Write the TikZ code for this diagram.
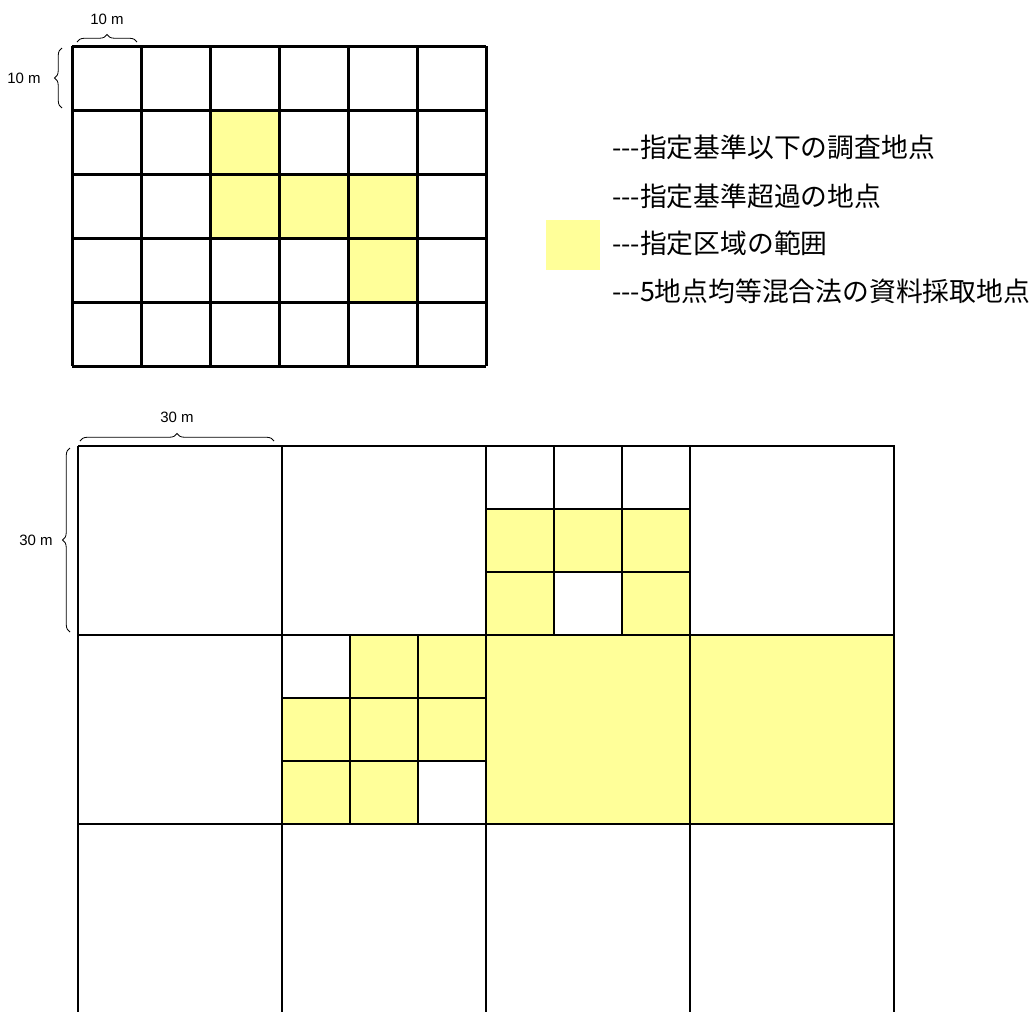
\documentclass[tikz,border=0pt]{standalone}
\usepackage{fontspec}
\setmainfont{Liberation Sans}
\newfontfamily\cjk{Noto Sans CJK JP}
\usetikzlibrary{decorations.pathreplacing}
\definecolor{zone}{HTML}{FFFF99}
\tikzset{
  gridA/.style={line width=3pt},
  gridB/.style={line width=2.4pt},
  cellfill/.style={fill=zone,draw=none},
  bracemark/.style={decorate,decoration={brace,amplitude=7.5pt},line width=0.8pt},
  dimlabel/.style={font=\fontsize{15}{17}\selectfont,inner sep=0pt},
  legendtext/.style={font=\cjk\fontsize{26.8}{30}\selectfont,anchor=west,inner sep=0pt}
}
\begin{document}
\begin{tikzpicture}[x=1pt,y=-1pt]
\useasboundingbox (0,0) rectangle (1034,1012);
% ---------- top grid ----------
\fill[cellfill] (210,110) rectangle (279,174);
\fill[cellfill] (210,174) rectangle (417,238);
\fill[cellfill] (348,238) rectangle (417,302);
\foreach \x in {72,141,210,279,348,417,486}
  \draw[gridA] (\x,46) -- (\x,366);
\foreach \y in {46,110,174,238,302,366}
  \draw[gridA] (72,\y) -- (486,\y);
% braces top
\coordinate (ta1) at (77,42);
\coordinate (ta2) at (137,42);
\draw[bracemark] (ta1) -- (ta2) node[midway,above=17pt,dimlabel] (lt) {10 m};
\coordinate (la1) at (62,108);
\coordinate (la2) at (62,48);
\draw[bracemark] (la1) -- (la2) node[midway,left=21pt,dimlabel] (ll) {10 m};
% ---------- legend ----------
\fill[cellfill] (546,220) rectangle (600,270);
\node[legendtext] (g1) at (612,147) {---指定基準以下の調査地点};
\node[legendtext] (g2) at (612,196) {---指定基準超過の地点};
\node[legendtext] (g3) at (612,243) {---指定区域の範囲};
\node[legendtext] (g4) at (612,291) {---5地点均等混合法の資料採取地点};
% ---------- bottom grid ----------
\fill[cellfill] (486,509) rectangle (690,572);
\fill[cellfill] (486,572) rectangle (554,635);
\fill[cellfill] (622,572) rectangle (690,635);
\fill[cellfill] (350,635) rectangle (486,698);
\fill[cellfill] (282,698) rectangle (486,761);
\fill[cellfill] (282,761) rectangle (418,824);
\fill[cellfill] (486,635) rectangle (894,824);
\foreach \x in {78,282,486,690,894}
  \draw[gridB] (\x,446) -- (\x,1012);
\foreach \y in {446,635,824}
  \draw[gridB] (78,\y) -- (895,\y);
\foreach \x in {554,622}
  \draw[gridB] (\x,446) -- (\x,635);
\foreach \y in {509,572}
  \draw[gridB] (486,\y) -- (690,\y);
\foreach \x in {350,418}
  \draw[gridB] (\x,635) -- (\x,824);
\foreach \y in {698,761}
  \draw[gridB] (282,\y) -- (486,\y);
% braces bottom
\coordinate (tb1) at (80,441);
\coordinate (tb2) at (274,441);
\draw[bracemark] (tb1) -- (tb2) node[midway,above=18pt,dimlabel] (bt) {30 m};
\coordinate (lb1) at (70,632);
\coordinate (lb2) at (70,448);
\draw[bracemark] (lb1) -- (lb2) node[midway,left=17pt,dimlabel] (bl) {30 m};
\end{tikzpicture}
\end{document}
